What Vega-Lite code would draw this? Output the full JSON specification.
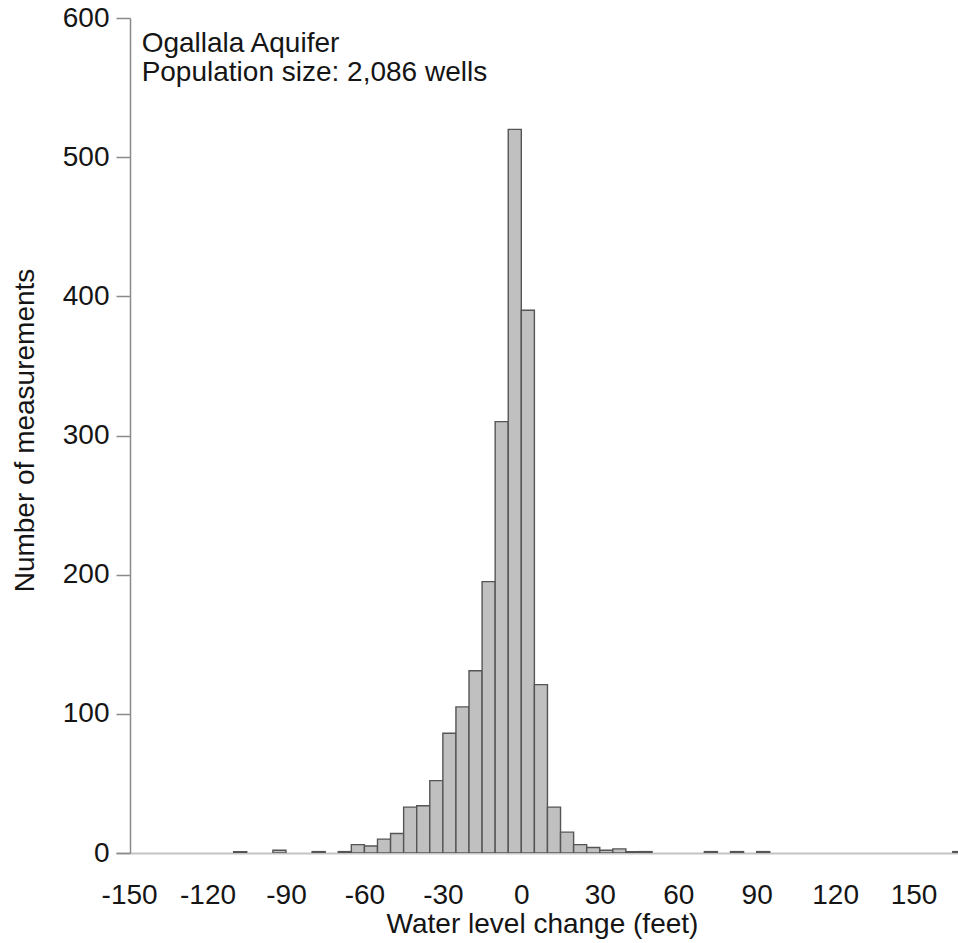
{
  "$schema": "https://vega.github.io/schema/vega-lite/v6.json",
  "width": 842,
  "height": 835,
  "autosize": {"type": "none"},
  "padding": {"left": 116, "top": 18, "right": 0, "bottom": 90},
  "background": "white",
  "config": {
    "view": {"stroke": null},
    "font": "Liberation Sans",
    "axis": {"grid": false, "labelFont": "Liberation Sans", "titleFont": "Liberation Sans", "labelColor": "#151515", "titleColor": "#151515", "titleFontWeight": "normal"}
  },
  "datasets": {
    "bins": [
      {"bin_start": -110, "bin_end": -105, "count": 1},
      {"bin_start": -95, "bin_end": -90, "count": 2},
      {"bin_start": -80, "bin_end": -75, "count": 1},
      {"bin_start": -70, "bin_end": -65, "count": 1},
      {"bin_start": -65, "bin_end": -60, "count": 6},
      {"bin_start": -60, "bin_end": -55, "count": 5},
      {"bin_start": -55, "bin_end": -50, "count": 10},
      {"bin_start": -50, "bin_end": -45, "count": 14},
      {"bin_start": -45, "bin_end": -40, "count": 33},
      {"bin_start": -40, "bin_end": -35, "count": 34},
      {"bin_start": -35, "bin_end": -30, "count": 52},
      {"bin_start": -30, "bin_end": -25, "count": 86},
      {"bin_start": -25, "bin_end": -20, "count": 105},
      {"bin_start": -20, "bin_end": -15, "count": 131},
      {"bin_start": -15, "bin_end": -10, "count": 195},
      {"bin_start": -10, "bin_end": -5, "count": 310},
      {"bin_start": -5, "bin_end": 0, "count": 520},
      {"bin_start": 0, "bin_end": 5, "count": 390},
      {"bin_start": 5, "bin_end": 10, "count": 121},
      {"bin_start": 10, "bin_end": 15, "count": 33},
      {"bin_start": 15, "bin_end": 20, "count": 15},
      {"bin_start": 20, "bin_end": 25, "count": 6},
      {"bin_start": 25, "bin_end": 30, "count": 4},
      {"bin_start": 30, "bin_end": 35, "count": 2},
      {"bin_start": 35, "bin_end": 40, "count": 3},
      {"bin_start": 40, "bin_end": 45, "count": 1},
      {"bin_start": 45, "bin_end": 50, "count": 1},
      {"bin_start": 70, "bin_end": 75, "count": 1},
      {"bin_start": 80, "bin_end": 85, "count": 1},
      {"bin_start": 90, "bin_end": 95, "count": 1},
      {"bin_start": 165, "bin_end": 170, "count": 1}
    ],
    "note": [
      {"lines": ["Ogallala Aquifer", "Population size: 2,086 wells"]}
    ]
  },
  "layer": [
    {
      "data": {"name": "bins"},
      "mark": {"type": "rect", "fill": "#c0c0c0", "stroke": "#555555", "strokeWidth": 1.4, "clip": true},
      "encoding": {
        "x": {
          "field": "bin_start",
          "type": "quantitative",
          "scale": {"domain": [-155, 167], "nice": false, "zero": false},
          "axis": {
            "values": [-150, -120, -90, -60, -30, 0, 30, 60, 90, 120, 150],
            "labelExpr": "datum.value < 0 ? '-' + abs(datum.value) : '' + datum.value",
            "title": "Water level change (feet)",
            "ticks": false,
            "tickSize": 0,
            "labelPadding": 28,
            "labelFontSize": 28,
            "labelFlush": false,
            "labelOverlap": false,
            "domainColor": "#c4c4c4",
            "domainWidth": 2,
            "titleFontSize": 28,
            "titleBaseline": "alphabetic",
            "titleAnchor": "start",
            "titleAlign": "center",
            "titleX": 426,
            "titleY": 79
          }
        },
        "x2": {"field": "bin_end"},
        "y": {
          "field": "count",
          "type": "quantitative",
          "scale": {"domain": [0, 600], "nice": false},
          "axis": {
            "values": [0, 100, 200, 300, 400, 500, 600],
            "title": "Number of measurements",
            "offset": -14,
            "tickSize": 14,
            "tickColor": "#8a8a8a",
            "tickWidth": 1.5,
            "domainColor": "#8a8a8a",
            "domainWidth": 1.5,
            "labelPadding": 7,
            "labelFontSize": 28,
            "titleFontSize": 28,
            "titleBaseline": "alphabetic",
            "titleAlign": "center",
            "titleAngle": -90,
            "titleX": -97,
            "titleY": 412
          }
        },
        "y2": {"datum": 0}
      }
    },
    {
      "data": {"name": "note"},
      "mark": {"type": "text", "align": "left", "baseline": "top", "fontSize": 28, "lineHeight": 29, "color": "#151515", "font": "Liberation Sans"},
      "encoding": {
        "x": {"datum": -145.2, "type": "quantitative"},
        "y": {"datum": 591.2, "type": "quantitative"},
        "text": {"field": "lines"}
      }
    }
  ]
}
